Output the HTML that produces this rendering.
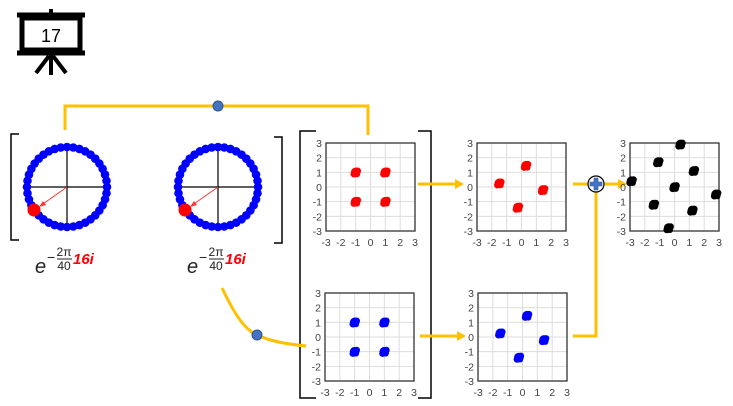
<!DOCTYPE html>
<html><head><meta charset="utf-8"><style>
html,body{margin:0;padding:0;background:#fff;width:733px;height:406px;overflow:hidden}
svg{display:block}
text{font-family:"Liberation Sans",sans-serif}
</style></head><body>
<svg id="s" width="733" height="406" viewBox="0 0 733 406" xmlns="http://www.w3.org/2000/svg">
<g stroke="#000" fill="none">
<rect x="22" y="18" width="58" height="32" stroke-width="5"/>
<line x1="17" y1="15" x2="85" y2="15" stroke-width="5"/>
<line x1="17" y1="53" x2="85" y2="53" stroke-width="5"/>
<line x1="51" y1="9" x2="51" y2="14" stroke-width="4"/>
<line x1="51" y1="55" x2="51" y2="75" stroke-width="4"/>
<line x1="49" y1="56" x2="36" y2="73" stroke-width="4"/>
<line x1="53" y1="56" x2="66" y2="73" stroke-width="4"/>
</g>
<text x="51" y="42" font-size="18" text-anchor="middle">17</text>

<g stroke="#000" stroke-width="1.5" fill="none">
<polyline points="19,134 11,134 11,240 19,240"/>
<polyline points="274,137 282,137 282,243 274,243"/>
<polyline points="316,131 300,131 300,398 316,398"/>
<polyline points="418,131 431,131 431,398 418,398"/>
</g>

<g stroke="#FFC000" stroke-width="3" fill="none">
<polyline points="65,130 65,106 368,106 368,135"/>
<path d="M222,288 C235,315 245,330 257,335 C270,341 285,344 306,346"/>
<line x1="418" y1="184" x2="456" y2="184"/>
<line x1="420" y1="336" x2="458" y2="336"/>
<line x1="573" y1="184" x2="588" y2="184"/>
<line x1="604" y1="184" x2="619" y2="184"/>
<polyline points="596,192 596,336 573,336"/>
</g>
<g fill="#FFC000">
<polygon points="455,179 464,184 455,189"/>
<polygon points="457,331 466,336 457,341"/>
<polygon points="618,179 627,184 618,189"/>
</g>
<circle cx="218" cy="106" r="5" fill="#4472C4" stroke="#2F528F"/>
<circle cx="257" cy="335" r="5" fill="#4472C4" stroke="#2F528F"/>
<circle cx="596" cy="184" r="8" fill="#fff" stroke="#000" stroke-width="1.2"/>
<path d="M594,178h4v4h4v4h-4v4h-4v-4h-4v-4h4z" fill="#4472C4" stroke="#2F528F" stroke-width="0.6"/>

<g id="circles"></g>
<g id="plots"></g>

<g font-family="Liberation Serif,serif">
<text x="35" y="273" font-size="20" font-style="italic" fill="#222">e</text>
<text x="47" y="262" font-size="14" fill="#222">−</text>
<text x="64" y="256" font-size="12" text-anchor="middle" fill="#222">2π</text>
<line x1="57" y1="259" x2="72" y2="259" stroke="#222" stroke-width="1"/>
<text x="64" y="270" font-size="12" text-anchor="middle" fill="#222">40</text>
<text x="73" y="264" font-size="15" font-weight="bold" font-style="italic" fill="#f00">16i</text>
<text x="187" y="273" font-size="20" font-style="italic" fill="#222">e</text>
<text x="199" y="262" font-size="14" fill="#222">−</text>
<text x="216" y="256" font-size="12" text-anchor="middle" fill="#222">2π</text>
<line x1="209" y1="259" x2="224" y2="259" stroke="#222" stroke-width="1"/>
<text x="216" y="270" font-size="12" text-anchor="middle" fill="#222">40</text>
<text x="225" y="264" font-size="15" font-weight="bold" font-style="italic" fill="#f00">16i</text>
</g>
</svg>
<script>
var NS="http://www.w3.org/2000/svg";
function el(p,t,a,txt){var e=document.createElementNS(NS,t);for(var k in a)e.setAttribute(k,a[k]);if(txt!=null)e.textContent=txt;p.appendChild(e);return e;}
var C=document.getElementById("circles");
[[67,187],[218,187]].forEach(function(c){
  el(C,"line",{x1:c[0]-44,y1:c[1],x2:c[0]+44,y2:c[1],stroke:"#000","stroke-width":1.2});
  el(C,"line",{x1:c[0],y1:c[1]-44,x2:c[0],y2:c[1]+44,stroke:"#000","stroke-width":1.2});
  for(var i=0;i<40;i++){var a=i*2*Math.PI/40;el(C,"circle",{cx:c[0]+40*Math.cos(a),cy:c[1]+40*Math.sin(a),r:4.3,fill:"#00f"});}
  el(C,"circle",{cx:c[0]-33,cy:c[1]+23,r:6.5,fill:"#f00"});
  el(C,"line",{x1:c[0],y1:c[1],x2:c[0]-27,y2:c[1]+19,stroke:"#f33","stroke-width":1});
  el(C,"polygon",{points:(c[0]-28)+","+(c[1]+20)+" "+(c[0]-21)+","+(c[1]+18)+" "+(c[0]-24)+","+(c[1]+14),fill:"#f33"});
});
var P=document.getElementById("plots");
function plot(x0,y0,pts,col,r){
  var g=el(P,"g",{transform:"translate("+x0+","+y0+")"});
  var w=89,h=88;
  for(var i=1;i<6;i++){el(g,"line",{x1:i*w/6,y1:0,x2:i*w/6,y2:h,stroke:"#ddd","stroke-width":1});el(g,"line",{x1:0,y1:i*h/6,x2:w,y2:i*h/6,stroke:"#ddd","stroke-width":1});}
  el(g,"rect",{x:0,y:0,width:w,height:h,fill:"none",stroke:"#333","stroke-width":1.3});
  for(var v=-3;v<=3;v++){
    el(g,"text",{x:-4,y:h/2-v*h/6+4,"font-size":10.5,"text-anchor":"end",fill:"#444"},String(v));
    el(g,"text",{x:w/2+v*w/6,y:h+15,"font-size":10.5,"text-anchor":"middle",fill:"#444"},String(v));
  }
  pts.forEach(function(p){var cx=w/2+p[0]*w/6,cy=h/2-p[1]*h/6;
    el(g,"circle",{cx:cx,cy:cy,r:r,fill:col});
    el(g,"circle",{cx:cx+2,cy:cy-1.5,r:r*0.7,fill:col});
    el(g,"circle",{cx:cx-1.8,cy:cy+1.8,r:r*0.7,fill:col});
    el(g,"circle",{cx:cx+1.5,cy:cy+2,r:r*0.6,fill:col});});
}
var q=[[-1,1],[1,1],[-1,-1],[1,-1]];
var rq=[[0.3,1.45],[1.45,-0.2],[-1.5,0.25],[-0.25,-1.4]];
plot(326,143,q,"#f00",4.8);
plot(477,143,rq,"#f00",4.8);
plot(325,293,q,"#00f",4.8);
plot(478,293,rq,"#00f",4.8);
plot(630,143,[[0,0],[-1.1,1.7],[1.3,1.1],[-2.9,0.4],[-1.4,-1.2],[1.2,-1.6],[2.8,-0.5],[-0.4,-2.8],[0.4,2.9]],"#000",4.8);
</script>
</body></html>
